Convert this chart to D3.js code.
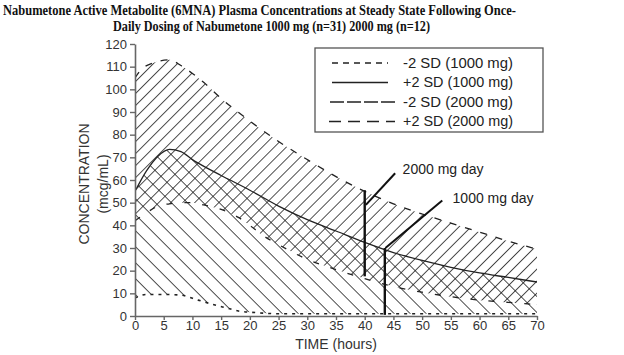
<!DOCTYPE html>
<html>
<head>
<meta charset="utf-8">
<script src="https://cdn.jsdelivr.net/npm/d3@7"></script>
<style>
  html, body { margin: 0; padding: 0; background: #fff; }
  svg { display: block; }
</style>
</head>
<body>
<svg id="chart" width="624" height="355"></svg>
<script>
// ---------------- DATA ----------------
const titleLines = [
  "Nabumetone Active Metabolite (6MNA) Plasma Concentrations at Steady State Following Once-",
  "Daily Dosing of Nabumetone 1000 mg (n=31) 2000 mg (n=12)"
];
const xTicks = [0, 5, 10, 15, 20, 25, 30, 35, 40, 45, 50, 55, 60, 65, 70];
const yTicks = [0, 10, 20, 30, 40, 50, 60, 70, 80, 90, 100, 110, 120];
const xLabel = "TIME (hours)";
const yLabel1 = "CONCENTRATION";
const yLabel2 = "(mcg/mL)";

// +2 SD (2000 mg)
const upper2000Time = [0, 1, 3, 6, 8, 10, 12, 15, 20, 25, 30, 35, 40, 45, 50, 55, 60, 65, 70];
const upper2000Val  = [105, 108.5, 111.5, 113, 110.5, 107, 103, 96, 86, 77, 69, 61.5, 55, 49.5, 45, 41, 37, 33, 29.5];
// -2 SD (2000 mg)
const lower2000Time = [0, 2, 4, 6, 8, 10, 12, 15, 18, 20, 22, 25, 30, 35, 40, 45, 50, 55, 60, 65, 70];
const lower2000Val  = [42, 45.5, 48.5, 49.5, 50, 50, 49, 47, 43.5, 40, 36, 31.5, 25, 20.5, 16.5, 13, 10.5, 8.5, 7, 6, 5];
// +2 SD (1000 mg)
const upper1000Time = [0, 2, 4, 6, 8, 10, 12, 15, 20, 25, 30, 35, 40, 45, 50, 55, 60, 65, 70];
const upper1000Val  = [55, 64, 70.5, 73.5, 72.5, 69, 66, 62, 55.5, 48.5, 42.5, 37.5, 32.5, 28, 24.5, 21.5, 19, 17, 15];
// -2 SD (1000 mg)
const lower1000Time = [0, 2, 5, 8, 11, 13, 16, 18, 21, 25, 30, 40, 50, 60, 70];
const lower1000Val  = [8, 9.5, 9.5, 9.2, 7, 5.5, 3.5, 2.2, 1.5, 1, 1, 1, 1, 1, 1];

// Day markers
const markerLabels = ["2000 mg day", "1000 mg day"];
const markerTime   = [40, 43.5];
const markerLow    = [17.5, 0.5];
const markerHigh   = [55.5, 30];
const leaderFrom   = [[40.2, 49], [43.6, 30]];
const leaderTo     = [[45.3, 63], [53.5, 51]];
const labelAt      = [[46.6, 65], [55.3, 52]];

const legendLabels = ["-2 SD (1000 mg)", "+2 SD (1000 mg)", "-2 SD (2000 mg)", "+2 SD (2000 mg)"];

// ---------------- DRAW ----------------
const svg = d3.select("#chart");
const x = d3.scaleLinear().domain([0, 70]).range([135, 537]);
const y = d3.scaleLinear().domain([0, 120]).range([316, 44]);
const ink = "#222";

const zip = (t, v) => t.map((d, i) => ({t: d, v: v[i]}));
const u2 = zip(upper2000Time, upper2000Val);
const l2 = zip(lower2000Time, lower2000Val);
const u1 = zip(upper1000Time, upper1000Val);
const l1 = zip(lower1000Time, lower1000Val);

const curve = d3.curveMonotoneX;
const line = d3.line().x(d => x(d.t)).y(d => y(d.v)).curve(curve);

function bandPath(up, lo) {
  const a = line(up);
  const b = line(lo.slice().reverse());
  return a + "L" + b.slice(1) + "Z";
}

const defs = svg.append("defs");
const p1 = defs.append("pattern").attr("id", "hatchFwd")
  .attr("patternUnits", "userSpaceOnUse").attr("width", 8.5).attr("height", 8.5)
  .attr("patternTransform", "rotate(45)");
p1.append("line").attr("x1", 0).attr("y1", 0).attr("x2", 0).attr("y2", 8.5)
  .attr("stroke", ink).attr("stroke-width", 1.6);
const p2 = defs.append("pattern").attr("id", "hatchBack")
  .attr("patternUnits", "userSpaceOnUse").attr("width", 11.3).attr("height", 11.3)
  .attr("patternTransform", "rotate(-45)");
p2.append("line").attr("x1", 0).attr("y1", 0).attr("x2", 0).attr("y2", 11.3)
  .attr("stroke", ink).attr("stroke-width", 1.6);

defs.append("clipPath").attr("id", "plotClip").append("rect")
  .attr("x", x(0)).attr("y", y(120)).attr("width", x(70) - x(0)).attr("height", y(0) - y(120));

const g = svg.append("g").attr("clip-path", "url(#plotClip)");
g.append("path").attr("d", bandPath(u2, l2)).attr("fill", "url(#hatchFwd)");
g.append("path").attr("d", bandPath(u1, l1)).attr("fill", "url(#hatchBack)");

g.append("path").attr("d", line(u2)).attr("fill", "none").attr("stroke", ink)
  .attr("stroke-width", 1.3).attr("stroke-dasharray", "7,9");
g.append("path").attr("d", line(l2)).attr("fill", "none").attr("stroke", ink)
  .attr("stroke-width", 1.3).attr("stroke-dasharray", "6,12");
g.append("path").attr("d", line(u1)).attr("fill", "none").attr("stroke", ink)
  .attr("stroke-width", 1.3);
g.append("path").attr("d", line(l1)).attr("fill", "none").attr("stroke", ink)
  .attr("stroke-width", 1.6).attr("stroke-dasharray", "3,5");

const font = "'Liberation Sans', Arial, sans-serif";
const yAxis = svg.append("g").attr("transform", `translate(${x(0)},0)`)
  .call(d3.axisLeft(y).tickValues(yTicks).tickSize(5).tickSizeOuter(0).tickPadding(3));
const xAxis = svg.append("g").attr("transform", `translate(0,${y(0)})`)
  .call(d3.axisBottom(x).tickValues(xTicks).tickSize(4).tickSizeOuter(0).tickPadding(1));
[xAxis, yAxis].forEach(ax => {
  ax.select(".domain").attr("stroke", "#666").attr("stroke-width", 1.6);
  ax.selectAll(".tick line").attr("stroke", "#666").attr("stroke-width", 1.4);
  ax.selectAll(".tick text").attr("fill", "#333").style("font-family", font).style("font-size", "13px");
});

svg.append("text").attr("x", 336).attr("y", 349).attr("text-anchor", "middle")
  .style("font-family", font).style("font-size", "14px").attr("fill", "#333").text(xLabel);
svg.append("text").attr("transform", "translate(89,184) rotate(-90)").attr("text-anchor", "middle")
  .style("font-family", font).style("font-size", "14px").attr("fill", "#333").text(yLabel1);
svg.append("text").attr("transform", "translate(108,184) rotate(-90)").attr("text-anchor", "middle")
  .style("font-family", font).style("font-size", "14px").attr("fill", "#333").text(yLabel2);

markerLabels.forEach((lab, i) => {
  svg.append("line").attr("x1", x(markerTime[i])).attr("x2", x(markerTime[i]))
    .attr("y1", y(markerLow[i])).attr("y2", y(markerHigh[i]))
    .attr("stroke", "#111").attr("stroke-width", 2.4);
  svg.append("line").attr("x1", x(leaderFrom[i][0])).attr("y1", y(leaderFrom[i][1]))
    .attr("x2", x(leaderTo[i][0])).attr("y2", y(leaderTo[i][1]))
    .attr("stroke", "#111").attr("stroke-width", 2);
  svg.append("text").attr("x", x(labelAt[i][0])).attr("y", y(labelAt[i][1]))
    .attr("dy", "0.35em").style("font-family", font).style("font-size", "14px")
    .attr("fill", "#222").text(lab);
});

svg.append("rect").attr("x", 315).attr("y", 48).attr("width", 228).attr("height", 84)
  .attr("fill", "#fff").attr("stroke", "#555").attr("stroke-width", 1.3);
const legDash = ["6,5", null, "14,3", "12,7"];
const legX1 = [332, 332, 330, 329];
const legX2 = [388, 388, 395, 395];
legendLabels.forEach((lab, i) => {
  const yy = 63 + i * 19.5;
  const l = svg.append("line").attr("x1", legX1[i]).attr("x2", legX2[i]).attr("y1", yy).attr("y2", yy)
    .attr("stroke", ink).attr("stroke-width", 1.3);
  if (legDash[i]) l.attr("stroke-dasharray", legDash[i]);
  svg.append("text").attr("x", 403).attr("y", yy).attr("dy", "0.35em")
    .style("font-family", font).style("font-size", "14px").attr("fill", "#222")
    .attr("textLength", 110).attr("lengthAdjust", "spacingAndGlyphs").text(lab);
});

const tLen = [513, 317];
const tX = [3, 113];
const tY = [15, 31];
titleLines.forEach((t, i) => {
  svg.append("text").attr("x", tX[i]).attr("y", tY[i])
    .style("font-family", "'Liberation Serif', 'Times New Roman', serif")
    .style("font-size", "14px").style("font-weight", "bold").attr("fill", "#111")
    .attr("textLength", tLen[i]).attr("lengthAdjust", "spacingAndGlyphs").text(t);
});
</script>
</body>
</html>
